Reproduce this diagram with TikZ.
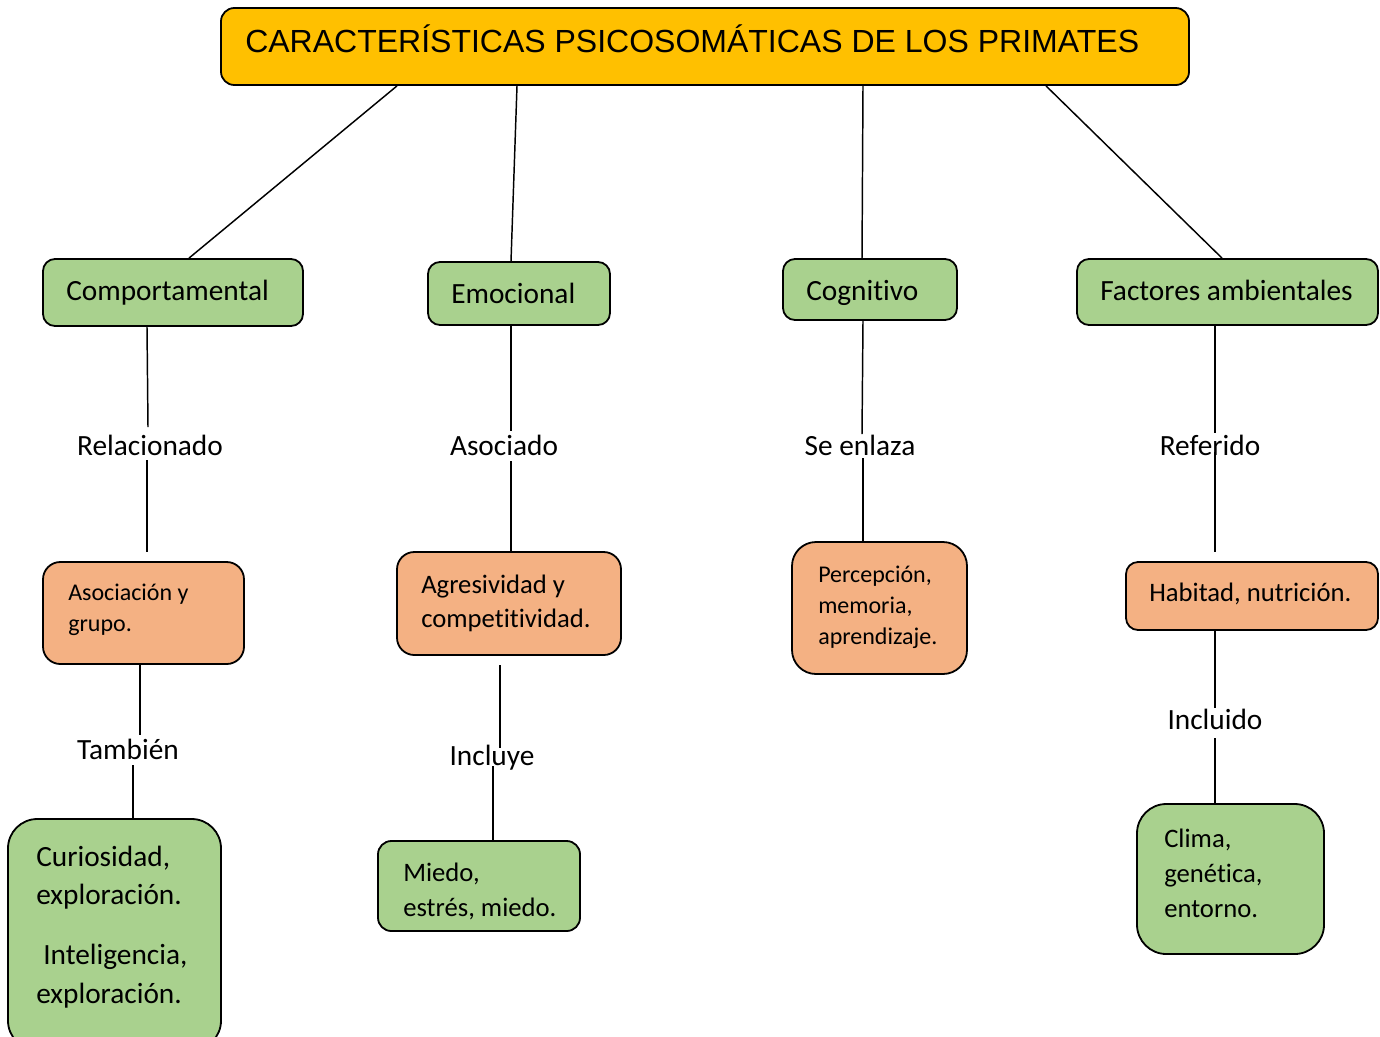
\documentclass[tikz,border=0pt]{standalone}
\usepackage{fontspec}
\setmainfont{Carlito}[RawFeature={-liga;-clig;-calt;-dlig}]
\newfontfamily\arialf{Liberation Sans}
\usetikzlibrary{fit}
\definecolor{titleyellow}{HTML}{FFC000}
\definecolor{boxgreen}{HTML}{A9D18E}
\definecolor{boxsalmon}{HTML}{F4B183}
\begin{document}
\begin{tikzpicture}[x=0.75pt,y=-0.75pt,
  conn/.style={draw=black, line width=1.1pt},
  box/.style={draw=black, line width=1.35pt, inner sep=0pt},
  gbox/.style={box, fill=boxgreen, rounded corners=#1},
  sbox/.style={box, fill=boxsalmon, rounded corners=#1},
  txt/.style={inner sep=0pt, anchor=base west},
  big/.style={font=\fontsize{22}{26}\selectfont},
  mid/.style={font=\fontsize{20}{24}\selectfont},
  sml/.style={font=\fontsize{18}{22}\selectfont},
  lbl/.style={inner sep=0pt, anchor=base, font=\fontsize{22}{26}\selectfont}]
\useasboundingbox (0,0) rectangle (1380,1036);

% title
\node[box, fill=titleyellow, rounded corners=10pt, fit={(221,8) (1189,85)}] (title) {};
\node[txt, font=\arialf\fontsize{24}{28}\selectfont] (ttitle) at (245,52) {CARACTERÍSTICAS PSICOSOMÁTICAS DE LOS PRIMATES};

% level 1
\node[gbox=9pt, fit={(43,259) (303,326)}] (comp) {};
\node[txt, big] (tcomp) at (66,300) {Comportamental};
\node[gbox=9pt, fit={(428,262) (610,325)}] (emoc) {};
\node[txt, big] (temoc) at (451,303) {Emocional};
\node[gbox=9pt, fit={(783,259) (957,320)}] (cogn) {};
\node[txt, big] (tcogn) at (806,300) {Cognitivo};
\node[gbox=9pt, fit={(1077,259) (1378,325)}] (fact) {};
\node[txt, big] (tfact) at (1100,300) {Factores ambientales};

% level 2
\node[sbox=13pt, fit={(43,562) (244,664)}] (asoc) {};
\node[txt, sml] (tasoc1) at (68,600) {Asociación y};
\node[txt, sml] (tasoc2) at (68,631) {grupo.};
\node[sbox=13pt, fit={(397,552) (621,655)}] (agre) {};
\node[txt, mid] (tagre1) at (421,593) {Agresividad y};
\node[txt, mid] (tagre2) at (421,627) {competitividad.};
\node[sbox=18pt, fit={(792,542) (967,674)}] (perc) {};
\node[txt, sml] (tperc1) at (818,582) {Percepción,};
\node[txt, sml] (tperc2) at (818,613) {memoria,};
\node[txt, sml] (tperc3) at (818,644) {aprendizaje.};
\node[sbox=9pt, fit={(1126,562) (1378,630)}] (habi) {};
\node[txt, mid] (thabi) at (1149,601) {Habitad, nutrición.};

% level 3
\node[gbox=22pt, fit={(8,819) (221,1050)}] (curi) {};
\node[txt, big] (tcuri1) at (36,866) {Curiosidad,};
\node[txt, big] (tcuri2) at (36,904) {exploración.};
\node[txt, big] (tcuri3) at (43,964) {Inteligencia,};
\node[txt, big] (tcuri4) at (36,1003) {exploración.};
\node[gbox=10pt, fit={(378,841) (580,931)}] (mied) {};
\node[txt, mid] (tmied1) at (403,881) {Miedo,};
\node[txt, mid] (tmied2) at (403,916) {estrés, miedo.};
\node[gbox=22pt, fit={(1137,804) (1324,954)}] (clim) {};
\node[txt, mid] (tclim1) at (1164,847) {Clima,};
\node[txt, mid] (tclim2) at (1164,882) {genética,};
\node[txt, mid] (tclim3) at (1164,917) {entorno.};

% link labels
\node[lbl] (lrel) at (150,455) {Relacionado};
\node[lbl] (lasd) at (504,455) {Asociado};
\node[lbl] (lenl) at (860,455) {Se enlaza};
\node[lbl] (lref) at (1210,455) {Referido};
\node[lbl] (ltam) at (128,759) {También};
\node[lbl] (linc) at (492,765) {Incluye};
\node[lbl] (lind) at (1215,729) {Incluido};

% free connector ends
\coordinate (r1) at (148,427); \coordinate (r2) at (147,460); \coordinate (r3) at (147,552);
\coordinate (t1) at (140,735); \coordinate (t2) at (133,765);
\coordinate (a1) at (511,431); \coordinate (a2) at (511,461);
\coordinate (i0) at (500,665); \coordinate (i1) at (500,748); \coordinate (i2) at (493,766);
\coordinate (e1) at (862,434); \coordinate (e2) at (863,458);
\coordinate (f1) at (1215,433); \coordinate (f2) at (1215,452); \coordinate (f3) at (1215,552);
\coordinate (n1) at (1215,708); \coordinate (n2) at (1215,738);

% connectors from title
\draw[conn] (title.south -| 397,0) -- (comp.north -| 189,0);
\draw[conn] (title.south -| 517,0) -- (emoc.north -| 511,0);
\draw[conn] (title.south -| 863,0) -- (cogn.north -| 862,0);
\draw[conn] (title.south -| 1046,0) -- (fact.north -| 1222,0);

% column 1
\draw[conn] (comp.south -| 147,0) -- (r1);
\draw[conn] (r2) -- (r3);
\draw[conn] (asoc.south -| 140,0) -- (t1);
\draw[conn] (t2) -- (curi.north -| 133,0);
% column 2
\draw[conn] (emoc.south -| 511,0) -- (a1);
\draw[conn] (a2) -- (agre.north -| 511,0);
\draw[conn] (i0) -- (i1);
\draw[conn] (i2) -- (mied.north -| 493,0);
% column 3
\draw[conn] (cogn.south -| 863,0) -- (e1);
\draw[conn] (e2) -- (perc.north -| 863,0);
% column 4
\draw[conn] (fact.south -| 1215,0) -- (f1);
\draw[conn] (f2) -- (f3);
\draw[conn] (habi.south -| 1215,0) -- (n1);
\draw[conn] (n2) -- (clim.north -| 1215,0);
\end{tikzpicture}
\end{document}
